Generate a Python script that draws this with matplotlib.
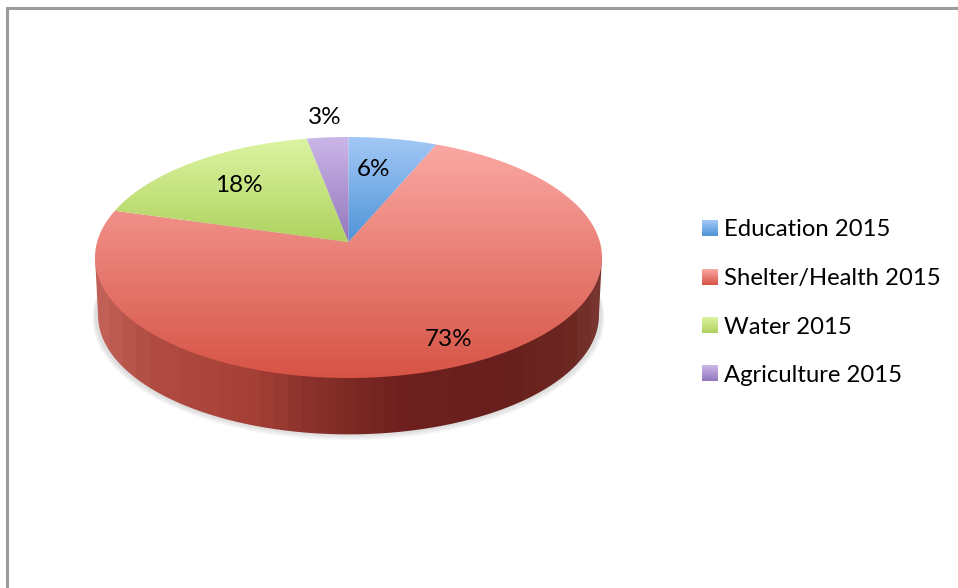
import numpy as np
import matplotlib
matplotlib.use('Agg')
import matplotlib.pyplot as plt
from matplotlib.patches import Polygon

plt.rcParams['font.family'] = ['Lato', 'DejaVu Sans']

# data
categories = ['Education 2015', 'Shelter/Health 2015', 'Water 2015', 'Agriculture 2015']
shares = [6.4, 73.0, 17.6, 3.0]

# slice colours, top and bottom of the gradient
tops = ['#A3C8F6', '#FBA8A3', '#DCF4A2', '#CBB6E8']
bottoms = ['#4F94D8', '#D65446', '#AFD25F', '#9277BC']

# side wall colours from left to right
wall_x = [95, 150, 250, 300, 400, 500, 570, 603]
wall_rgb = [(192, 96, 86), (176, 76, 66), (165, 64, 55), (140, 50, 45),
            (110, 33, 30), (104, 31, 29), (108, 39, 33), (122, 56, 50)]

# layout in pixels
label_pos = [(374, 170), (449, 340), (239, 185)]
outside_label_pos = (325, 117)
legend_y = [229, 278, 326, 374]
cx, cy = 348.5, 242
a, b, k = 251.4, 118.5, 0.1286
depth = 58


def rim(theta, scale=1.0, drop=0.0):
    # disc seen in perspective, theta runs clockwise from 12 o'clock
    s = 1 / (1 + k * np.cos(theta))
    return cx + scale * a * np.sin(theta) * s, cy + drop - scale * b * np.cos(theta) * s


def rgb(c):
    return np.array(matplotlib.colors.to_rgb(c))


def fill_gradient(ax, patch, top, bottom, box):
    # vertical gradient clipped to a patch
    t = np.linspace(0, 1, 128)[:, None, None]
    img = rgb(top)[None, None, :] * (1 - t) + rgb(bottom)[None, None, :] * t
    im = ax.imshow(img, extent=box, aspect='auto', interpolation='bilinear', zorder=patch.get_zorder())
    ax.add_patch(patch)
    patch.set_visible(False)
    im.set_clip_path(patch)
    return im


fig = plt.figure(figsize=(9.58, 5.88), dpi=100)
ax = fig.add_axes([0, 0, 1, 1])
ax.set_axis_off()

# frame of the original slide, left and top only
ax.plot([7, 7, 958], [588, 8, 8], color='#9C9C9C', lw=2.2, solid_joinstyle='miter', zorder=1)

# soft shadow under the disc
t_all = np.linspace(0, 2 * np.pi, 361)
for i in range(6):
    xs, ys = rim(t_all, 1.0 + 0.002 * i, depth + 0.6 * i)
    ax.add_patch(Polygon(np.c_[xs, ys], closed=True, fc='#777777', ec='none', alpha=0.04, zorder=2))

# side wall
xb, yb = rim(t_all, 0.988, depth)
xt, yt = rim(t_all)
left = np.argmin(xt)
right = np.argmax(xt)
lower = np.arange(right, left + 1)
wall = Polygon(np.r_[np.c_[xt[[right]], yt[[right]]],
                     np.c_[xb[lower], yb[lower]],
                     np.c_[xt[[left]], yt[[left]]]], closed=True, fc='none', ec='none', zorder=3)
band_x = np.arange(95, 606, 14)
band = np.array([[np.interp(band_x, wall_x, [c[j] for c in wall_rgb]) / 255 for j in range(3)]])
band = np.transpose(band, (0, 2, 1))
im = ax.imshow(band, extent=(95, 605, 440, 250), aspect='auto', interpolation='nearest', zorder=3)
ax.add_patch(wall)
wall.set_visible(False)
im.set_clip_path(wall)

# top of the disc, one gradient per slice
start = 0.0
for share, top, bottom in zip(shares, tops, bottoms):
    th = np.radians(np.linspace(start, start + share * 3.6, 200))
    xs, ys = rim(th)
    pts = np.r_[[[cx, cy]], np.c_[xs, ys]]
    patch = Polygon(pts, closed=True, fc='none', ec='none', zorder=4)
    fill_gradient(ax, patch, top, bottom, (pts[:, 0].min(), pts[:, 0].max(), pts[:, 1].max(), pts[:, 1].min()))
    start += share * 3.6

# percent labels
for share, pos in zip(shares, label_pos):
    ax.text(pos[0], pos[1], '%d%%' % round(share), fontsize=17.5, color='black', ha='center', va='center', zorder=6)
ax.text(outside_label_pos[0], outside_label_pos[1], '%d%%' % round(shares[3]), fontsize=17.5,
        color='black', ha='center', va='center', zorder=6)

# legend
for name, y, top, bottom in zip(categories, legend_y, tops, bottoms):
    t = np.linspace(0, 1, 32)[:, None, None]
    img = rgb(top)[None, None, :] * (1 - t) + rgb(bottom)[None, None, :] * t
    ax.imshow(img, extent=(702, 718, y + 7, y - 9), aspect='auto', zorder=5)
    ax.text(724, y + 1, name, fontsize=17.2, color='black', ha='left', va='center', zorder=6)

ax.set_xlim(0, 958)
ax.set_ylim(588, 0)
fig.savefig('out.png', dpi=100, facecolor='white')
